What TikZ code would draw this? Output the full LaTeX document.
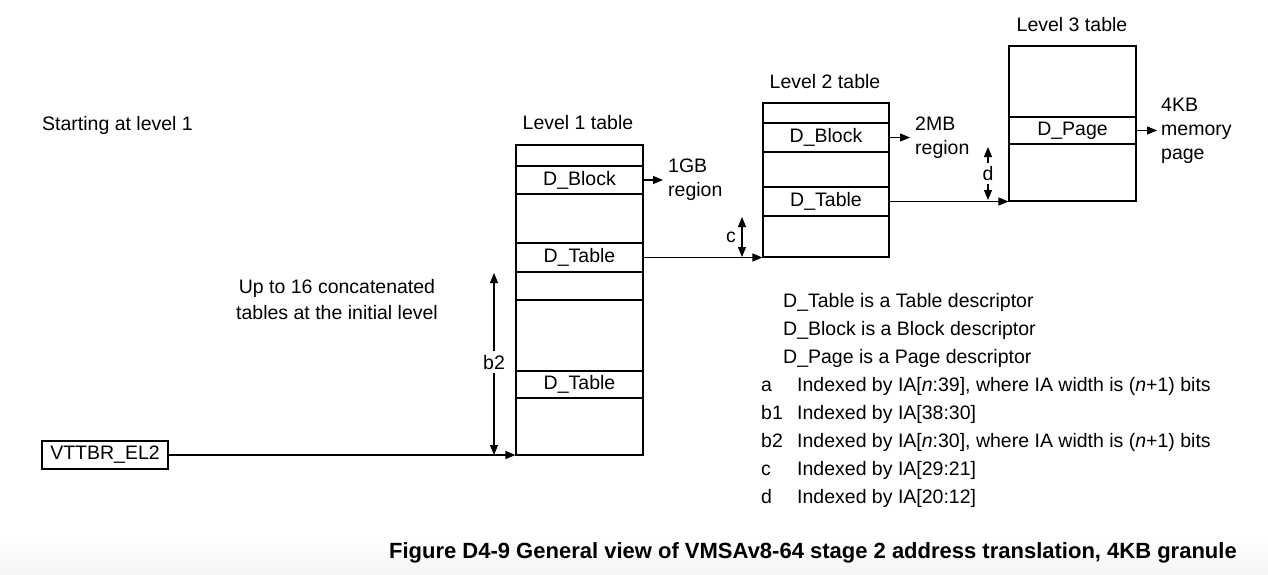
\documentclass[tikz,border=0pt]{standalone}
\usepackage{fontspec}
\setmainfont{Liberation Sans}
\usetikzlibrary{arrows.meta}
\begin{document}
\begin{tikzpicture}[x=1pt,y=-1pt,
  every node/.style={font=\fontsize{19.5}{24}\selectfont, inner sep=0pt},
  tbl/.style={draw, line width=1.1pt, minimum width=#1, rectangle},
  rowbox/.style={draw, line width=1.1pt, minimum height=#1},
  conn/.style={line width=1.1pt, -{Triangle[length=10pt,width=8pt]}},
  dim/.style={line width=1.1pt, {Triangle[length=10pt,width=8pt]}-{Triangle[length=10pt,width=8pt]}},
  lbl/.style={anchor=west, align=left},
  leg/.style={anchor=base west}
]
\useasboundingbox (0,0) rectangle (1268,574);
\shade[top color=white, bottom color=black!4] (0,540) rectangle (1268,574);

% Level 1 table
\node[tbl=127, minimum height=310] (l1) at (579.5,300) {};
\node[rowbox=28, minimum width=127] (l1blk) at (579.5,180) {D\_Block};
\node[rowbox=29, minimum width=127] (l1tab) at (579.5,257.5) {D\_Table};
\node[rowbox=28, minimum width=127] (l1emp) at (579.5,286) {};
\node[rowbox=27, minimum width=127] (l1tab2) at (579.5,384.5) {D\_Table};
\node (l1lab) at (578,123) {Level 1 table};

% Level 2 table
\node[tbl=126, minimum height=154] (l2) at (826,180) {};
\node[rowbox=29, minimum width=126] (l2blk) at (826,137.5) {D\_Block};
\node[rowbox=29, minimum width=126] (l2tab) at (826,201.5) {D\_Table};
\node (l2lab) at (825,82) {Level 2 table};

% Level 3 table
\node[tbl=127, minimum height=155] (l3) at (1072.5,123.5) {};
\node[rowbox=27, minimum width=127] (l3pg) at (1072.5,130.5) {D\_Page};
\node (l3lab) at (1072,25) {Level 3 table};

% region labels
\node[lbl] (gb) at (668,180) {1GB\\region};
\node[lbl] (mb) at (915,137.5) {2MB\\region};
\node[lbl] (kb) at (1161,131) {4KB\\memory\\page};

\coordinate (gbin) at (663,180);
\coordinate (mbin) at (910,137.5);
\coordinate (kbin) at (1157,130.5);
\draw[conn] (l1blk.east) -- (gbin);
\draw[conn] (l2blk.east) -- (mbin);
\draw[conn] (l3pg.east) -- (kbin);

% table links
\draw[conn] (l1tab.east) -- (l1tab.east -| l2.west);
\draw[conn] (l2tab.east) -- (l2tab.east -| l3.west);

% VTTBR
\node[draw, line width=1.1pt, minimum width=126, minimum height=28] (vt) at (105,455) {VTTBR\_EL2};
\draw[conn] (vt.east) -- (vt.east -| l1.west);

% dimension arrows
\coordinate (ct) at (742,217);
\coordinate (cb) at (742,257);
\draw[dim] (ct) -- (cb);
\node (clab) at (731,237) {c};

\coordinate (dt) at (988,147);
\coordinate (db) at (988,200);
\draw[dim] (dt) -- node[fill=white, inner ysep=3pt, inner xsep=2pt] (dlab) {d} (db);

\coordinate (bt) at (494,273);
\coordinate (bb) at (494,455);
\draw[dim] (bt) -- node[fill=white, pos=0.49, inner ysep=4pt, inner xsep=2pt] (blab) {b2} (bb);

% free texts
\node[anchor=west] (start) at (42,125) {Starting at level 1};
\node[align=center] (upto) at (337,300) {Up to 16 concatenated\\[2pt]tables at the initial level};

% legend
\node[leg] (lg1) at (783,307) {D\_Table is a Table descriptor};
\node[leg] (lg2) at (783,335) {D\_Block is a Block descriptor};
\node[leg] (lg3) at (783,363) {D\_Page is a Page descriptor};
\node[leg] (ka) at (761,391) {a};
\node[leg] (kb1) at (761,419) {b1};
\node[leg] (kb2) at (761,447) {b2};
\node[leg] (kc) at (761,475) {c};
\node[leg] (kd) at (761,503) {d};
\node[leg] (ta) at (797,391) {Indexed by IA[\textit{n}:39], where IA width is (\textit{n}+1) bits};
\node[leg] (tb1) at (797,419) {Indexed by IA[38:30]};
\node[leg] (tb2) at (797,447) {Indexed by IA[\textit{n}:30], where IA width is (\textit{n}+1) bits};
\node[leg] (tc) at (797,475) {Indexed by IA[29:21]};
\node[leg] (td) at (797,503) {Indexed by IA[20:12]};

% caption
\node[anchor=east, font=\fontsize{22}{24}\selectfont\bfseries] (cap) at (1237,553) {Figure D4-9 General view of VMSAv8-64 stage 2 address translation, 4KB granule};
\end{tikzpicture}
\end{document}
